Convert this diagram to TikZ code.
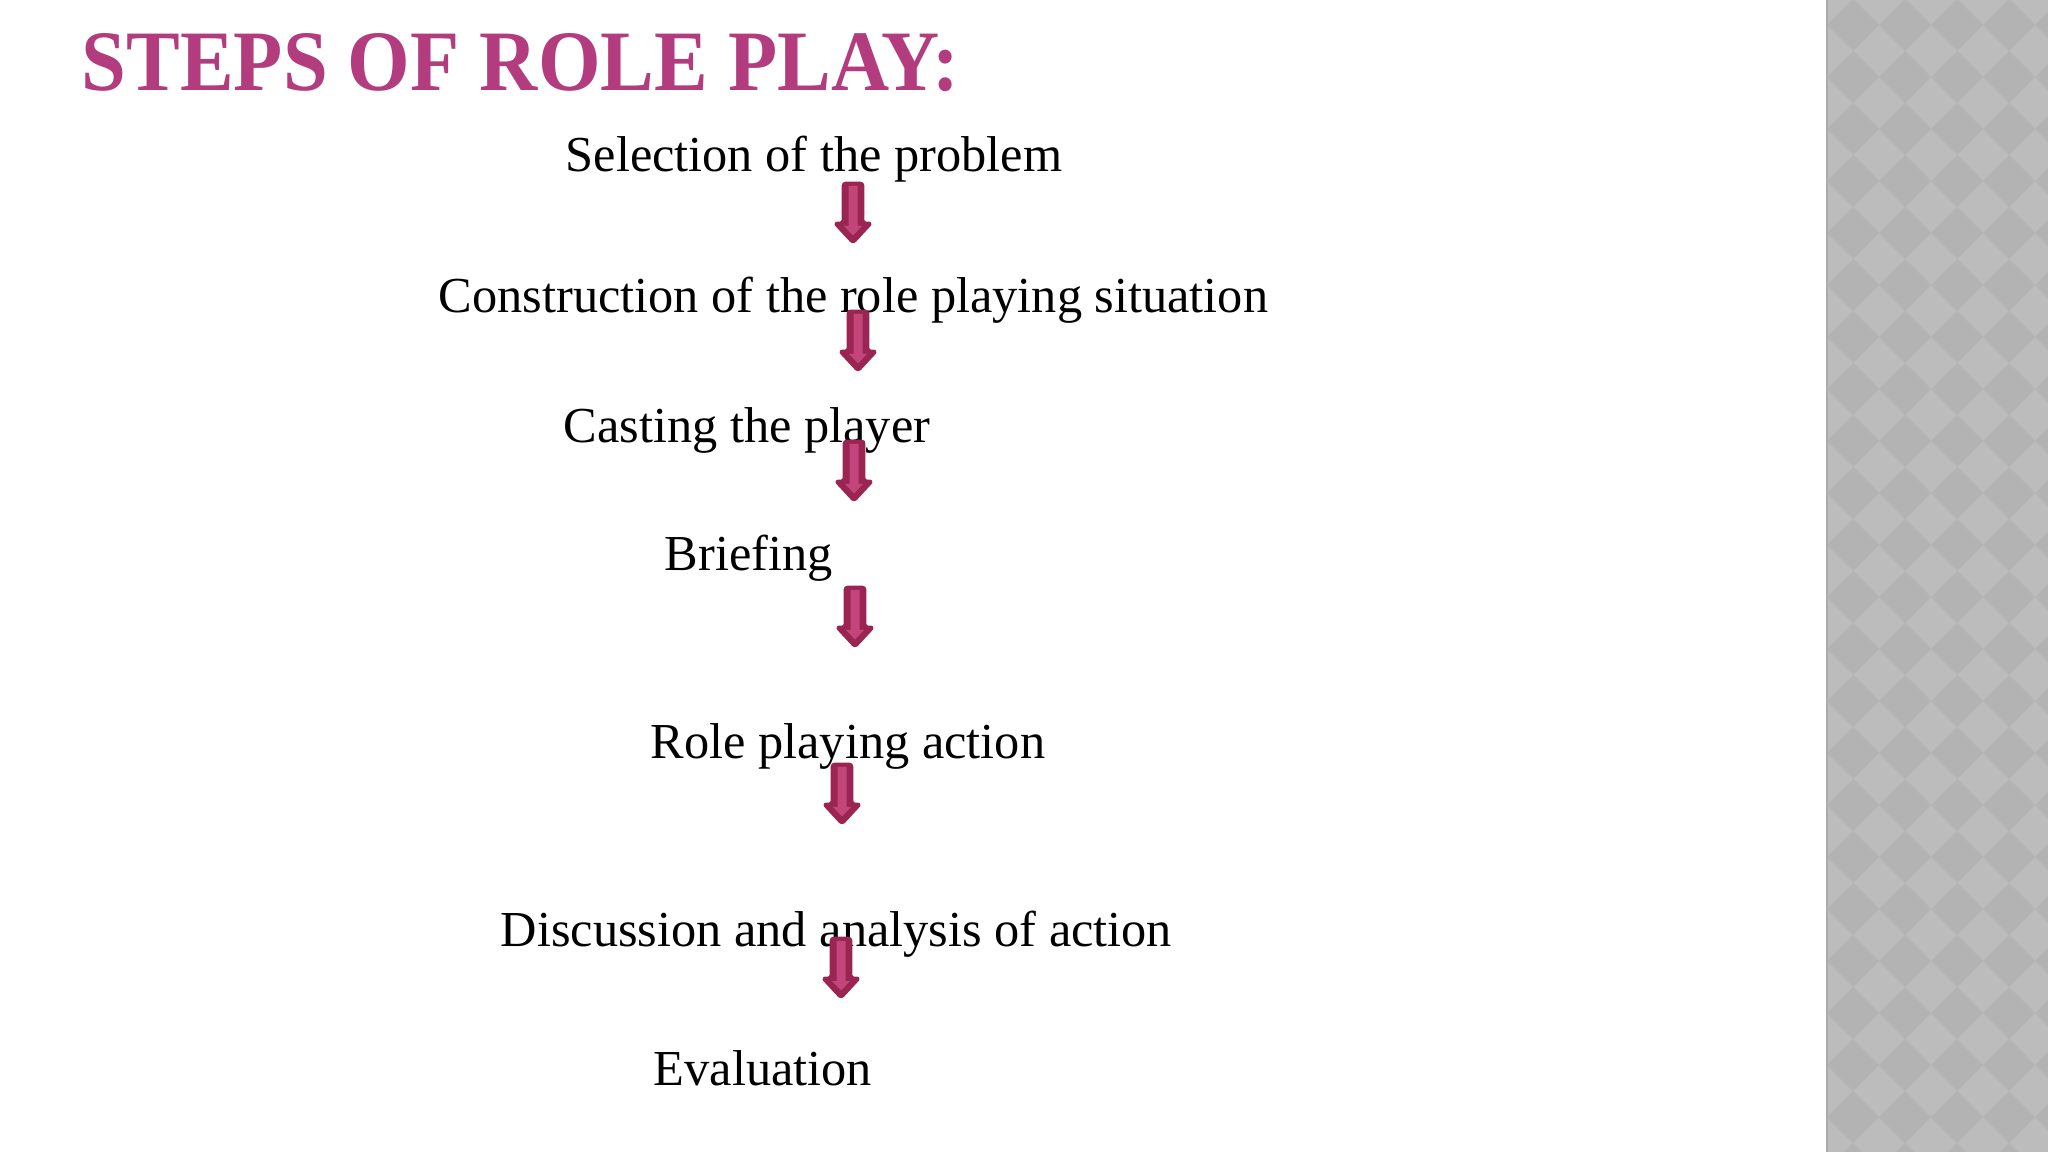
\documentclass[tikz,border=0pt]{standalone}
\usepackage{fontspec}
\setmainfont{Liberation Serif}

\definecolor{titlepink}{HTML}{B23C7E}
\definecolor{arrowdark}{HTML}{9B2552}
\definecolor{arrowlight}{HTML}{C2467A}
\definecolor{panelgray}{HTML}{BCBCBC}
\definecolor{paneldark}{HTML}{B3B3B3}
\definecolor{paneledge}{HTML}{ABABAB}

\begin{document}
\begin{tikzpicture}
		[
			heading/.style={anchor=base west, inner sep=0, text=titlepink, font=\fontsize{24.5}{29}\selectfont\bfseries},
			steptext/.style={anchor=base west, inner sep=0, font=\fontsize{14.33}{17}\selectfont},
			arrowbody/.style={fill=arrowdark, draw=arrowdark, line width=0.8pt, line join=round, rounded corners=0.8pt},
			arrowinner/.style={fill=arrowlight},
			pics/steparrow/.style={code={
				\filldraw[arrowbody] (-0.10,0) -- (0.10,0) -- (0.10,-0.40) -- (0.185,-0.40) -- (0,-0.60) -- (-0.185,-0.40) -- (-0.10,-0.40) -- cycle;
				\fill[arrowinner] (-0.045,-0.03) -- (0.045,-0.03) -- (0.045,-0.43) -- (0.09,-0.43) -- (0,-0.525) -- (-0.09,-0.43) -- (-0.045,-0.43) -- cycle;
			}},
		]

		\useasboundingbox (0,0) rectangle (20.48,-11.52);

		% Side panel
		\begin{scope}
			\clip (18.26,0) rectangle (20.48,-11.52);
			\fill[panelgray] (18.26,0) rectangle (20.48,-11.52);
			\foreach \i in {0,...,5}
				\foreach \j in {0,...,23}
					\fill[paneldark] (18.53+0.52*\i, 0.27-0.52*\j) ++(-0.26,0) -- ++(0.26,0.26) -- ++(0.26,-0.26) -- ++(-0.26,-0.26) -- cycle;
			\fill[paneledge] (18.26,0) rectangle (18.28,-11.52);
		\end{scope}

		% Title
		\node[heading] (title) at (0.81,-0.91) {\scalebox{0.935}[1]{STEPS OF ROLE PLAY:}};

		% Steps
		\foreach \name/\x/\y/\text in
		{
			s1/5.65/1.72/Selection of the problem,
			s2/4.38/3.13/Construction of the role playing situation,
			s3/5.63/4.43/Casting the player,
			s4/6.64/5.71/Briefing,
			s5/6.50/7.59/Role playing action,
			s6/5.00/9.46/Discussion and analysis of action,
			s7/6.53/10.85/Evaluation
		}
			\node[steptext] (\name) at (\x,-\y) {\text};

		% Arrows
		\foreach \name/\x/\y in
		{
			a1/8.53/1.83,
			a2/8.58/3.11,
			a3/8.54/4.41,
			a4/8.55/5.87,
			a5/8.42/7.64,
			a6/8.41/9.38
		}
			\pic (\name) at (\x,-\y) {steparrow};

		\end{tikzpicture}
\end{document}
